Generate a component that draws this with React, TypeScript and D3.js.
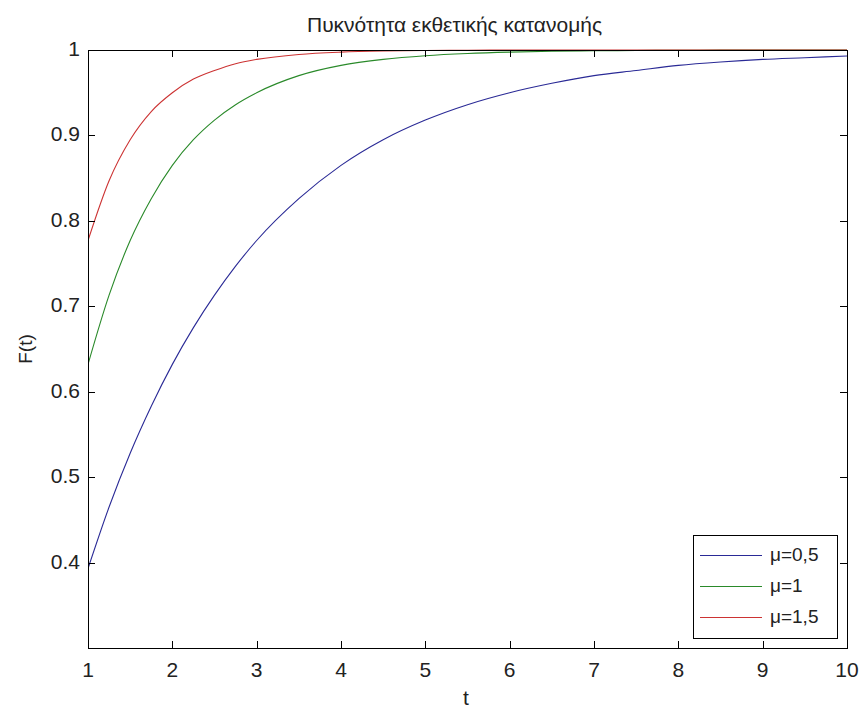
import React from "react";
import * as d3 from "d3";

const tValues = [1, 1.25, 1.5, 1.75, 2, 2.25, 2.5, 2.75, 3, 3.5, 4, 4.5, 5, 5.5, 6, 6.5, 7, 7.5, 8, 8.5, 9, 9.5, 10];
const blueValues = [0.393, 0.465, 0.528, 0.583, 0.632, 0.675, 0.713, 0.747, 0.777, 0.826, 0.865, 0.895, 0.918, 0.936, 0.95, 0.961, 0.97, 0.976, 0.982, 0.986, 0.989, 0.991, 0.993];
const greenValues = [0.632, 0.713, 0.777, 0.826, 0.865, 0.895, 0.918, 0.936, 0.95, 0.97, 0.982, 0.989, 0.9933, 0.9959, 0.9975, 0.9985, 0.9991, 0.9994, 0.9997, 0.9998, 0.9999, 0.9999, 1.0];
const redValues = [0.777, 0.847, 0.895, 0.928, 0.95, 0.966, 0.976, 0.984, 0.989, 0.9948, 0.9975, 0.9988, 0.9994, 0.9997, 0.9999, 1.0, 1.0, 1.0, 1.0, 1.0, 1.0, 1.0, 1.0];
const seriesLabels = ["μ=0,5", "μ=1", "μ=1,5"];
const seriesColors = ["#2a2a96", "#2a8a2a", "#cc3333"];
const xTicks = [1, 2, 3, 4, 5, 6, 7, 8, 9, 10];
const yTicks = [0.4, 0.5, 0.6, 0.7, 0.8, 0.9, 1];
const titleText = "Πυκνότητα εκθετικής κατανομής";
const xLabel = "t";
const yLabel = "F(t)";

const W = 863;
const H = 709;
const left = 88;
const right = 847;
const top = 50;
const bottom = 648;
const FONT = "'Liberation Sans', Arial, sans-serif";

export default function App() {
  const x = d3.scaleLinear().domain([1, 10]).range([left, right]);
  const y = d3.scaleLinear().domain([0.3, 1]).range([bottom, top]);
  const line = d3
    .line<number>()
    .x((_, i) => x(tValues[i]))
    .y((d) => y(d))
    .curve(d3.curveMonotoneX);
  const series = [blueValues, greenValues, redValues];
  const tickLen = 7;

  const legX0 = 693;
  const legX1 = 837;
  const legY0 = 535;
  const legY1 = 638;
  const rowY = [555, 586, 617];

  return (
    <svg
      width={W}
      height={H}
      style={{ position: "absolute", left: 0, top: 0, background: "#fff" }}
      fontFamily={FONT}
    >
      <rect x={0} y={0} width={W} height={H} fill="#fff" />
      <defs>
        <clipPath id="plotclip">
          <rect x={left} y={top - 1} width={right - left} height={bottom - top + 1} />
        </clipPath>
      </defs>
      <g clipPath="url(#plotclip)">
        {series.map((s, k) => (
          <path key={k} d={line(s) || ""} fill="none" stroke={seriesColors[k]} strokeWidth={1.1} />
        ))}
      </g>
      {/* axes box */}
      <rect x={left + 0.5} y={top + 0.5} width={right - left} height={bottom - top} fill="none" stroke="#000" strokeWidth={1} />
      {xTicks.map((t) => (
        <g key={"xt" + t}>
          <line x1={Math.round(x(t)) + 0.5} x2={Math.round(x(t)) + 0.5} y1={bottom} y2={bottom - tickLen} stroke="#000" />
          <line x1={Math.round(x(t)) + 0.5} x2={Math.round(x(t)) + 0.5} y1={top} y2={top + tickLen} stroke="#000" />
          <text x={x(t)} y={677} textAnchor="middle" fontSize={21} fill="#222">
            {t}
          </text>
        </g>
      ))}
      {yTicks.map((v) => (
        <g key={"yt" + v}>
          <line x1={left} x2={left + tickLen} y1={Math.round(y(v)) + 0.5} y2={Math.round(y(v)) + 0.5} stroke="#000" />
          <line x1={right} x2={right - tickLen} y1={Math.round(y(v)) + 0.5} y2={Math.round(y(v)) + 0.5} stroke="#000" />
          <text x={80} y={y(v) + 6} textAnchor="end" fontSize={21} fill="#222">
            {String(v)}
          </text>
        </g>
      ))}
      <text x={454.5} y={32} textAnchor="middle" fontSize={21} fill="#222" textLength={295} lengthAdjust="spacingAndGlyphs">
        {titleText}
      </text>
      <text x={466} y={705} textAnchor="middle" fontSize={21} fill="#222">
        {xLabel}
      </text>
      <text transform={`translate(32,349) rotate(-90)`} textAnchor="middle" fontSize={19} fill="#222">
        {yLabel}
      </text>
      {/* legend */}
      <rect x={legX0 + 0.5} y={legY0 + 0.5} width={legX1 - legX0} height={legY1 - legY0} fill="#fff" stroke="#000" strokeWidth={1} />
      {seriesLabels.map((lab, k) => (
        <g key={"lg" + k}>
          <line x1={legX0 + 7} x2={762} y1={rowY[k] + 0.5} y2={rowY[k] + 0.5} stroke={seriesColors[k]} strokeWidth={1.1} />
          <text x={770} y={rowY[k] + 6} fontSize={19} fill="#222">
            {lab}
          </text>
        </g>
      ))}
    </svg>
  );
}
